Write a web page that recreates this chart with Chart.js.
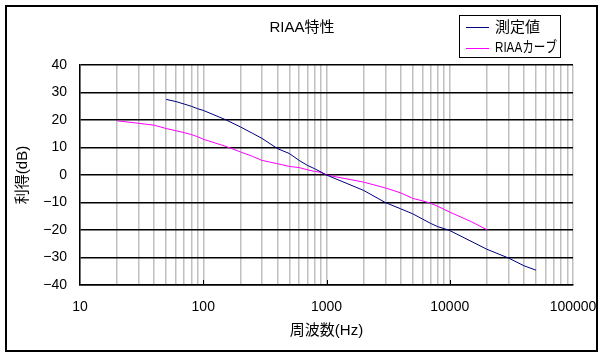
<!DOCTYPE html>
<html><head><meta charset="utf-8">
<script src="https://cdn.jsdelivr.net/npm/chart.js@4.4.1/dist/chart.umd.min.js"></script>
<style>html,body{margin:0;padding:0;background:#fff;overflow:hidden}</style>
</head><body>
<canvas id="c" width="605" height="357"></canvas>
<script>
const chartTitle = 'RIAA特性';
const xTitle = '周波数(Hz)';
const yTitle = '利得(dB)';
const seriesNames = ['測定値', 'RIAAカーブ'];
const seriesColors = ['#000080', '#ff00ff'];

const measuredFreq = [50,60,70,80,90,100,150,200,250,300,400,500,600,700,800,900,1000,2000,3000,4000,5000,6000,7000,8000,9000,10000,20000,30000,40000,50000];
const measuredGain = [27.5,26.7,25.8,25.0,24.1,23.5,20.2,17.5,15.2,13.3,9.6,7.8,5.3,3.5,2.3,1.1,0,-5.6,-10.0,-12.3,-14.1,-16.0,-17.6,-18.8,-19.5,-20.2,-27.0,-30.2,-33.0,-34.6];

const riaaFreq = [20,30,40,50,60,70,80,90,100,150,200,250,300,400,500,600,700,800,900,1000,2000,3000,4000,5000,6000,7000,8000,9000,10000,15000,20000];
const riaaGain = [19.7,18.8,18.1,16.9,16.1,15.4,14.7,13.9,13.0,10.5,8.4,6.8,5.3,4.1,3.1,2.7,1.9,1.3,1.0,0,-2.6,-4.7,-6.5,-8.5,-9.4,-10.3,-11.4,-12.5,-13.5,-17.0,-19.9];

const xDecades = [10,100,1000,10000,100000];
const xTickLabels = ['10','100','1000','10000','100000'];
const yMin = -40, yMax = 40, yStep = 10;

const FONT = '"Liberation Sans", "Noto Sans CJK JP", sans-serif';
const tickFont = {family: FONT, size: 14};
const titleFont = {family: FONT, size: 15};

function toPoints(xs, ys){ return xs.map((x,i)=>({x:x, y:ys[i]})); }

const decor = {
  id: 'decor',
  beforeDraw(chart){
    const c = chart.ctx;
    c.save(); c.fillStyle = '#fff'; c.fillRect(0,0,chart.width,chart.height); c.restore();
  },
  afterDraw(chart){
    const c = chart.ctx;
    const xs = chart.scales.x, area = chart.chartArea;
    c.save();
    // major inside ticks
    c.strokeStyle = '#000'; c.lineWidth = 1;
    xDecades.slice(1, -1).forEach(v=>{
      const px = Math.round(xs.getPixelForValue(v)) + 0.5;
      c.beginPath(); c.moveTo(px, area.bottom); c.lineTo(px, area.bottom - 5); c.stroke();
    });
    // outer frame
    c.lineWidth = 2; c.strokeStyle = '#000';
    c.strokeRect(6, 6, 591, 345);
    // title
    c.fillStyle = '#000';
    c.font = '15px ' + FONT;
    c.textAlign = 'center'; c.textBaseline = 'middle';
    c.fillText(chartTitle, 302, 28);
    // legend
    const lx = 459.5, ly = 15.5, lw = 101, lh = 42;
    c.lineWidth = 1; c.strokeStyle = '#000';
    c.strokeRect(lx, ly, lw, lh);
    chart.data.datasets.forEach((ds, i)=>{
      const yy = 27 + i * 20.5;
      c.strokeStyle = seriesColors[i]; c.lineWidth = 1;
      c.beginPath(); c.moveTo(466, Math.round(yy)+0.5); c.lineTo(489, Math.round(yy)+0.5); c.stroke();
      c.fillStyle = '#000'; c.textAlign = 'left'; c.textBaseline = 'middle';
      c.font = '15px ' + FONT;
      c.fillText(ds.label, 495, yy + 0.5, 62);
    });
    c.restore();
  }
};

new Chart(document.getElementById('c'), {
  type: 'line',
  data: {
    datasets: [
      {label: seriesNames[0], data: toPoints(measuredFreq, measuredGain), borderColor: seriesColors[0], borderWidth: 1, pointRadius: 0, fill: false, tension: 0},
      {label: seriesNames[1], data: toPoints(riaaFreq, riaaGain), borderColor: seriesColors[1], borderWidth: 1, pointRadius: 0, fill: false, tension: 0}
    ]
  },
  options: {
    responsive: false, animation: false, devicePixelRatio: 1,
    layout: {padding: {left: 0, right: 32, top: 65, bottom: 0}},
    plugins: {legend: {display: false}, title: {display: false}, tooltip: {enabled: false}},
    scales: {
      x: {
        type: 'logarithmic', min: 10, max: 100000,
        afterBuildTicks(scale){
          const t = [];
          for (let i = 0; i < xDecades.length - 1; i++) for (let m = 1; m <= 9; m++) t.push({value: xDecades[i] * m});
          t.push({value: xDecades[xDecades.length - 1]});
          scale.ticks = t;
        },
        afterFit(scale){ scale.height = 72; scale.paddingLeft = 0; scale.paddingRight = 0; },
        grid: {color: '#c0c0c0', lineWidth: 1.5, drawTicks: false},
        border: {color: '#000', width: 1.5},
        ticks: {autoSkip: false, maxRotation: 0, minRotation: 0, padding: 14, color: '#000', font: tickFont,
          callback(v){ const i = xDecades.indexOf(v); return i >= 0 ? xTickLabels[i] : ''; }},
        title: {display: true, text: xTitle, color: '#000', font: titleFont, padding: {top: 0, bottom: 17}}
      },
      y: {
        min: yMin, max: yMax,
        afterFit(scale){ scale.width = 80; scale.paddingTop = 0; scale.paddingBottom = 0; },
        grid: {color: '#000', lineWidth: 1.5, drawTicks: false},
        border: {color: '#000', width: 1.5},
        ticks: {stepSize: yStep, padding: 13, color: '#000', font: tickFont,
          callback(v){ return v < 0 ? '\u2212' + (-v) : String(v); }},
        title: {display: true, text: yTitle, color: '#000', font: titleFont, padding: {top: 14, bottom: 0}}
      }
    }
  },
  plugins: [decor]
});
</script>
</body></html>
